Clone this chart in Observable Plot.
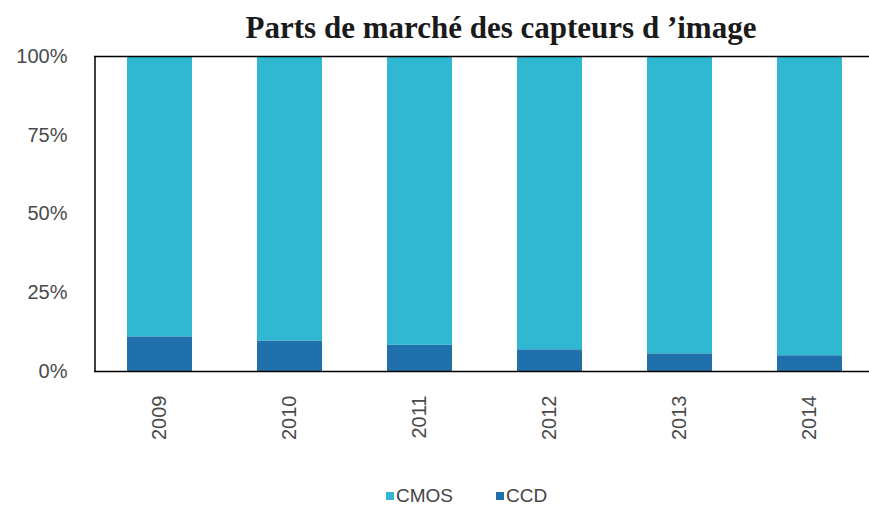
<!DOCTYPE html>
<html><head><meta charset="utf-8">
<script src="https://cdn.jsdelivr.net/npm/d3@7"></script>
<script src="https://cdn.jsdelivr.net/npm/@observablehq/plot@0.6"></script>
<style>
body{margin:0;background:#fff;width:869px;height:511px;overflow:hidden;position:relative;}
#title{position:absolute;left:0;top:12px;width:1002px;text-align:center;font:bold 31px "Liberation Serif",serif;color:#1a1a1a;line-height:31px;white-space:nowrap;}
#chart{position:absolute;left:0;top:46px;}
#legend{position:absolute;top:484px;left:0;width:869px;height:24px;font:19px "Liberation Sans",Arial,sans-serif;color:#444;line-height:24px;}
#legend .it{position:absolute;top:0;white-space:nowrap;}
#legend .sw{display:inline-block;width:8px;height:8px;margin-right:2px;vertical-align:2px;}
</style></head>
<body>
<div id="title">Parts de marché des capteurs d ’image</div>
<div id="chart"></div>
<div id="legend"></div>
<script>
const years = ["2009","2010","2011","2012","2013","2014"];
const ccd = [11.0, 9.7, 8.3, 6.9, 5.6, 5.0];
const cmos = [89.0, 90.3, 91.7, 93.1, 94.4, 95.0];
const seriesNames = ["CMOS","CCD"];
const seriesColors = ["#30b8d2","#1f70ab"];
const yTicks = [0,25,50,75,100];

const rows = [];
years.forEach((y,i)=>{
  rows.push({year:y, series:"CCD", value:ccd[i]});
  rows.push({year:y, series:"CMOS", value:cmos[i]});
});

const chart = Plot.plot({
  width:869, height:420,
  marginTop:10, marginBottom:95, marginLeft:94, marginRight:-6,
  style:{fontFamily:"'Liberation Sans', Arial, sans-serif", fontSize:"20px", color:"#4a4a4a", background:"transparent", overflow:"visible"},
  x:{domain:years, padding:0.5, paddingOuter:0.25, label:null, tickSize:0, tickPadding:24, tickRotate:-90},
  y:{domain:[0,100], ticks:yTicks, tickFormat:d=>d+"%", label:null, tickSize:0, tickPadding:27},
  color:{domain:seriesNames, range:seriesColors},
  marks:[
    Plot.barY(rows, Plot.stackY({x:"year", y:"value", fill:"series", order:["CCD","CMOS"]})),
    Plot.ruleY([100],{stroke:"#000", strokeWidth:1.5}),
    Plot.ruleY([0],{stroke:"#000", strokeWidth:1.5}),
    Plot.ruleX([years[0]],{dx:-65, stroke:"#000", strokeWidth:1.5})
  ]
});
document.getElementById("chart").appendChild(chart);

const lg = document.getElementById("legend");
const legendLeft = [386, 496];
seriesNames.forEach((n,i)=>{
  const it = document.createElement("span"); it.className="it"; it.style.left = legendLeft[i]+"px";
  const sw = document.createElement("span"); sw.className="sw"; sw.style.background=seriesColors[i];
  it.appendChild(sw); it.appendChild(document.createTextNode(n));
  lg.appendChild(it);
});
</script>
</body></html>
